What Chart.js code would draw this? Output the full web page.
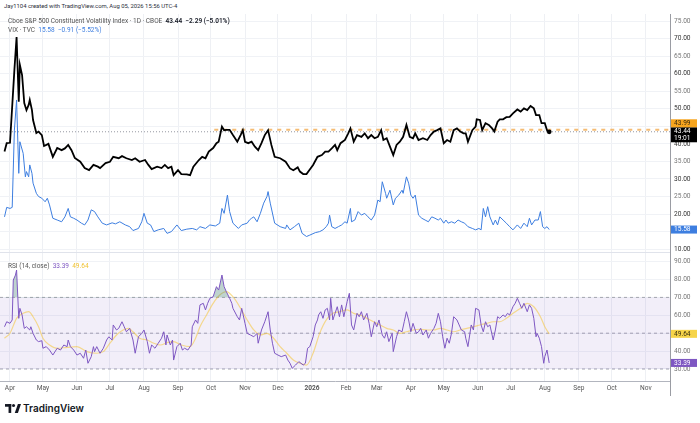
<!DOCTYPE html>
<html>
<head>
<meta charset="utf-8">
<script src="https://cdn.jsdelivr.net/npm/chart.js@4.4.1/dist/chart.umd.min.js"></script>
<style>
  body { margin:0; width:700px; height:423px; background:#fff; position:relative; overflow:hidden;
         font-family: Roboto, "Noto Sans", sans-serif; }
  .abs { position:absolute; white-space:nowrap; line-height:1; }
  .txt { z-index:3; }
  #top { left:0; top:14px; width:700px; height:239px; }
  #bot { left:0; top:253px; width:700px; height:145px; }
</style>
</head>
<body>
<div class="abs txt" style="left:4px;top:4px;font-size:5.9px;color:#2a2e39">Jay1104 created with TradingView.com, Aug 05, 2026 15:56 UTC-4</div>
<div class="abs txt" style="left:8px;top:17.5px;font-size:6.5px;color:#555">Cboe S&amp;P 500 Constituent Volatility Index · 1D · CBOE&nbsp; <span style="color:#131722;font-weight:600">43.44&nbsp; −2.29 (−5.01%)</span></div>
<div class="abs txt" style="left:8px;top:26.5px;font-size:6.5px;color:#555">VIX · TVC&nbsp; <span style="color:#3d7ee0">15.58&nbsp; −0.91 (−5.52%)</span></div>
<div class="abs txt" style="left:8px;top:262.5px;font-size:6.5px;color:#555">RSI (14, close)&nbsp; <span style="color:#7e57c2">33.39</span>&nbsp; <span style="color:#f0c232">49.64</span></div>

<div class="abs" id="top"><canvas id="mainChart"></canvas></div>
<div class="abs" id="bot"><canvas id="rsiChart"></canvas></div>
<div class="abs" style="left:0;top:252px;width:670px;height:1px;background:#e0e3eb"></div>
<div class="abs" style="left:670px;top:14px;width:1px;height:382px;background:#9a9ca3"></div>

<div class="abs" style="left:5px;top:403px;display:flex;align-items:center">
  <svg width="16" height="9" viewBox="0 0 18 10"><rect x="0" y="0" width="7" height="3" fill="#131722"/><rect x="4" y="0" width="3" height="10" fill="#131722"/><circle cx="9.6" cy="1.7" r="1.7" fill="#131722"/><polygon points="11,10 14.5,0 18,0 14.5,10" fill="#131722"/></svg>
  <span style="font-size:10px;font-weight:600;color:#131722;margin-left:2px;font-family:Inter,Roboto,sans-serif">TradingView</span>
</div>

<script>
// x values are calendar days counted from 2025-04-01
const monthDays = [0, 30, 61, 91, 122, 153, 183, 214, 244, 275, 306, 334, 365, 395, 426, 456, 487, 518, 548, 579];
const monthLabels = ['Apr', 'May', 'Jun', 'Jul', 'Aug', 'Sep', 'Oct', 'Nov', 'Dec', '2026', 'Feb', 'Mar', 'Apr', 'May', 'Jun', 'Jul', 'Aug', 'Sep', 'Oct', 'Nov'];
const priceTicks = [10, 15, 20, 25, 30, 35, 40, 45, 50, 55, 60, 65, 70, 75];
const rsiTicks = [30, 40, 50, 60, 70, 80, 90];
const rsiLevels = [70, 50, 30];

// Cboe S&P 500 Constituent Volatility Index (black)
const cvolSeries = [[-5,37.8],[-3,40.2],[0,40.3],[4,61.0],[6,70.4],[8,52.0],[9,62.5],[11,59.6],[13,51.6],[15,49.6],[17,51.1],[18,52.5],[20,49.6],[21,46.8],[24,43.1],[26,43.5],[29,42.5],[31,39.4],[35,40.0],[39,36.3],[43,38.8],[47,38.2],[50,38.7],[53,39.7],[56,38.2],[59,36.0],[64,34.9],[68,33.1],[72,32.5],[76,34.0],[80,33.5],[82,33.1],[87,34.5],[91,34.9],[94,36.3],[99,35.9],[102,36.5],[106,35.9],[111,35.4],[114,35.9],[118,34.9],[123,35.4],[126,34.0],[129,32.8],[134,33.5],[138,33.1],[141,34.0],[144,33.1],[147,33.5],[149,31.1],[153,32.5],[156,31.4],[161,31.3],[164,31.1],[167,33.5],[172,35.4],[175,36.3],[178,35.9],[181,37.8],[185,38.8],[188,40.2],[190,40.6],[193,44.9],[195,43.9],[197,44.0],[200,44.0],[203,42.5],[207,40.6],[210,42.5],[212,43.9],[214,40.6],[217,40.2],[220,40.6],[223,39.2],[226,38.2],[229,40.2],[232,42.5],[235,43.9],[238,39.7],[241,36.3],[246,35.9],[251,34.9],[255,33.0],[258,32.5],[262,33.3],[264,32.1],[267,31.4],[270,31.4],[273,32.7],[276,34.0],[280,36.3],[284,36.8],[287,37.8],[290,37.8],[293,38.7],[296,39.7],[298,38.2],[301,40.2],[305,41.1],[308,43.0],[310,44.4],[313,40.6],[316,42.5],[320,42.0],[323,43.0],[326,41.6],[329,42.5],[332,41.6],[335,42.0],[338,43.9],[340,41.1],[343,41.6],[346,39.2],[349,36.8],[352,39.7],[355,40.6],[358,42.0],[361,45.4],[364,42.0],[367,41.6],[369,43.0],[372,41.1],[376,41.6],[380,41.1],[383,42.5],[386,43.5],[389,43.9],[392,44.4],[395,40.2],[398,41.1],[401,40.6],[404,43.9],[407,44.4],[410,43.5],[413,43.0],[415,43.0],[417,40.6],[421,43.9],[424,44.9],[425,47.0],[428,46.8],[430,43.9],[433,45.9],[436,45.4],[439,44.4],[441,43.5],[444,46.3],[446,47.0],[449,47.0],[452,47.6],[455,47.7],[458,48.7],[462,49.8],[465,49.2],[468,50.1],[471,49.6],[474,50.8],[477,50.1],[479,48.2],[482,48.2],[484,45.9],[487,45.9],[489,43.9],[491,43.44]];

// VIX (blue)
const vixSeries = [[-5,19.2],[-3,21.9],[0,21.6],[2,21.9],[4,43.9],[6,52.5],[8,31.6],[9,40.6],[12,37.3],[14,30.6],[15,32.1],[17,30.6],[18,34.0],[20,31.6],[21,28.8],[24,25.9],[26,25.0],[29,24.5],[32,23.5],[34,24.5],[36,22.6],[39,18.8],[43,18.3],[47,17.8],[50,19.2],[53,21.6],[55,19.2],[58,18.8],[61,18.3],[65,17.4],[68,16.9],[71,18.3],[74,21.2],[77,20.7],[80,19.2],[84,17.4],[88,16.9],[93,17.5],[96,17.2],[100,17.8],[105,16.9],[109,16.4],[112,15.3],[117,15.9],[120,17.8],[122,20.2],[125,17.4],[128,16.9],[131,15.0],[135,15.5],[140,15.9],[143,14.5],[147,15.0],[152,16.9],[156,15.3],[161,15.7],[166,15.9],[170,15.5],[173,16.4],[178,15.9],[182,16.9],[187,16.6],[191,17.4],[193,21.6],[195,20.2],[198,25.4],[200,20.7],[203,17.4],[208,15.9],[211,16.9],[216,17.4],[218,18.3],[220,18.8],[222,19.2],[225,17.8],[228,20.2],[231,23.1],[234,25.0],[235,26.4],[237,23.1],[241,17.4],[246,16.4],[251,15.9],[252,16.9],[255,15.5],[259,16.4],[263,17.4],[266,14.5],[270,13.6],[273,14.0],[278,14.7],[282,15.0],[285,15.5],[288,16.4],[290,17.4],[291,19.7],[293,16.4],[296,15.9],[299,16.4],[302,16.9],[305,17.8],[307,17.4],[310,21.6],[311,17.8],[314,18.3],[317,20.7],[320,19.7],[323,20.2],[326,19.2],[329,18.3],[332,19.7],[335,24.0],[337,23.5],[339,29.2],[342,25.9],[343,24.5],[346,26.8],[349,22.6],[351,24.5],[354,25.4],[357,26.8],[358,25.9],[361,30.6],[363,28.8],[365,25.4],[367,24.5],[369,25.4],[372,19.7],[375,18.8],[378,18.3],[381,17.8],[384,19.2],[387,18.8],[390,18.3],[392,18.8],[395,17.4],[397,18.3],[399,17.4],[402,17.8],[405,17.4],[408,18.3],[411,17.8],[414,17.4],[417,16.4],[421,15.9],[424,15.5],[427,15.9],[429,15.5],[431,21.6],[433,19.2],[435,22.1],[437,19.2],[440,16.9],[442,18.3],[444,16.9],[446,19.2],[449,18.3],[452,17.4],[455,16.4],[458,15.5],[462,16.9],[465,15.9],[468,17.4],[471,16.4],[473,18.8],[475,16.9],[478,18.3],[481,18.3],[483,20.7],[485,16.4],[487,15.9],[489,16.4],[491,15.58]];

// RSI(14) of the index and its moving average
const rsiSeries = [[-5,53.6],[-3,56.4],[0,55.5],[2,57.4],[3,79.7],[5,82.5],[6,85.3],[8,58.3],[9,63.9],[11,60.2],[13,52.7],[15,53.6],[18,51.8],[19,53.6],[21,49.9],[24,46.2],[26,45.3],[29,45.8],[30,41.6],[33,42.5],[36,40.6],[39,37.8],[43,41.6],[46,40.6],[49,43.4],[52,42.5],[53,46.2],[55,42.5],[58,40.6],[61,37.8],[64,38.8],[67,36.0],[69,40.6],[71,33.2],[74,36.9],[76,42.5],[77,39.7],[79,42.5],[82,38.8],[85,41.6],[88,46.2],[90,48.0],[93,46.2],[94,54.6],[97,51.8],[99,52.7],[102,56.4],[104,53.6],[106,50.8],[109,52.7],[112,46.2],[114,38.8],[117,48.0],[120,49.9],[122,51.8],[125,45.3],[127,38.8],[129,43.4],[132,41.6],[135,44.4],[138,47.2],[140,50.8],[142,43.4],[143,49.0],[146,43.4],[148,46.2],[149,35.0],[152,42.5],[155,44.4],[157,40.6],[159,41.6],[162,40.6],[165,43.4],[166,53.6],[169,57.4],[171,55.5],[173,65.8],[176,66.7],[178,63.0],[180,66.7],[182,69.5],[185,70.4],[188,76.0],[190,74.1],[193,82.5],[195,76.0],[197,73.2],[200,69.5],[202,66.7],[203,63.9],[207,59.2],[209,57.4],[211,63.9],[214,55.5],[216,49.9],[219,49.0],[222,48.0],[225,49.9],[226,44.4],[229,51.8],[232,56.4],[235,62.0],[237,51.8],[239,44.4],[241,38.8],[244,37.8],[247,36.9],[251,37.8],[253,35.0],[255,33.2],[257,30.4],[260,32.2],[263,34.1],[265,33.2],[267,32.2],[269,33.2],[271,41.6],[273,42.5],[276,48.0],[278,54.6],[280,57.4],[281,60.2],[283,62.0],[285,58.3],[287,63.0],[289,63.9],[291,57.4],[292,69.5],[294,57.4],[296,61.1],[298,64.8],[300,59.2],[302,65.8],[304,59.2],[307,67.6],[309,72.3],[311,54.6],[313,51.8],[316,61.1],[318,59.2],[320,62.0],[322,57.4],[325,61.1],[327,55.5],[329,48.0],[332,56.4],[334,53.6],[336,57.4],[339,49.0],[341,47.2],[343,50.8],[345,45.3],[348,49.9],[349,39.7],[352,48.0],[354,51.8],[357,50.8],[359,56.4],[361,62.0],[363,57.4],[365,50.8],[367,55.5],[370,49.9],[372,50.8],[374,52.7],[376,49.0],[379,51.8],[381,47.2],[383,49.9],[386,52.7],[388,55.5],[390,61.1],[392,56.4],[394,48.0],[396,41.6],[398,47.2],[400,44.4],[402,49.9],[404,59.2],[407,57.4],[409,54.6],[411,51.8],[414,50.8],[415,47.2],[417,42.5],[420,54.6],[422,51.8],[424,63.9],[427,63.0],[429,54.6],[431,50.8],[433,56.4],[435,53.6],[437,54.6],[440,46.2],[442,51.8],[444,59.2],[446,58.3],[449,60.2],[451,59.2],[453,61.1],[455,60.2],[458,64.8],[460,66.7],[462,69.5],[464,66.7],[466,63.9],[468,66.7],[471,62.0],[473,65.8],[475,63.9],[477,58.3],[479,48.0],[480,49.9],[482,47.2],[484,42.5],[486,33.2],[487,36.9],[489,40.6],[491,33.39]];
const rsiMaSeries = [[-5,47.2],[0,50.0],[6,58.3],[12,61.1],[17,62.0],[21,59.2],[26,53.6],[30,47.2],[36,43.4],[43,41.6],[52,42.1],[61,42.5],[70,39.7],[79,38.8],[85,39.7],[91,44.4],[97,49.0],[103,51.8],[108,52.7],[112,50.8],[118,47.2],[125,46.2],[131,44.4],[137,43.4],[143,44.7],[149,45.3],[156,43.4],[164,42.5],[169,47.2],[173,53.6],[179,60.2],[185,66.7],[191,71.3],[197,73.2],[203,70.4],[210,63.9],[216,57.4],[222,51.8],[228,49.0],[234,49.9],[240,47.2],[246,42.5],[252,38.8],[258,35.0],[264,33.2],[270,32.2],[276,38.8],[282,49.9],[288,57.4],[294,61.1],[300,62.0],[307,63.0],[313,61.1],[319,60.2],[325,58.3],[331,56.4],[337,54.6],[343,52.7],[349,51.8],[355,49.9],[361,50.8],[367,51.8],[373,52.2],[380,51.8],[386,51.8],[392,52.7],[398,51.8],[404,50.8],[410,51.8],[416,52.7],[422,53.6],[428,54.6],[434,55.5],[440,56.4],[446,56.4],[452,58.3],[458,61.1],[465,63.9],[471,66.7],[477,64.8],[483,59.2],[487,53.6],[491,49.64]];

const lastCvol = 43.44, lastVix = 15.58, lastRsi = 33.39, lastRsiMa = 49.64;
const hLineValue = 43.99, hLineStart = 186;
const xMin = -9.1, xMax = 601;

const FONT = 'Roboto, "Noto Sans", sans-serif';
const toXY = s => s.map(([d, v]) => ({ x: d, y: v }));
const flat = (v, from) => [{ x: from, y: v }, { x: xMax, y: v }];

function xAxis(showLabels) {
  return {
    type: 'linear', min: xMin, max: xMax,
    afterBuildTicks: s => { s.ticks = monthDays.map(v => ({ value: v })); },
    afterFit: s => { s.height = showLabels ? 17 : 0; s.paddingLeft = 0; s.paddingRight = 0; },
    grid: { color: '#eef0f4', drawTicks: false },
    border: { display: showLabels, color: '#b2b5be' },
    ticks: {
      display: showLabels, autoSkip: false, maxRotation: 0, padding: 3, color: '#555',
      font: c => ({ size: 6.6, family: FONT, weight: monthLabels[c.index] === '2026' ? 'bold' : 'normal' }),
      callback: (v, i) => monthLabels[i]
    }
  };
}

function yAxis(min, max, ticks, colorFn) {
  return {
    position: 'right', min: min, max: max,
    afterBuildTicks: s => { s.ticks = ticks.map(v => ({ value: v })); },
    // keep the plot edge exactly on the panel edge
    afterFit: s => { s.width = 30; s.paddingTop = 0; s.paddingBottom = 0; },
    grid: { color: '#f0f2f6', drawTicks: false },
    border: { display: false },
    ticks: { padding: 4, color: colorFn, font: { size: 6.6, family: FONT }, callback: v => v.toFixed(2) }
  };
}

// price tags on the right axis, pushed apart when they overlap
const axisTags = {
  id: 'axisTags',
  afterDraw(chart, args, opts) {
    const ctx = chart.ctx, y = chart.scales.y, left = chart.chartArea.right + 1;
    const boxes = opts.items.map(t => {
      const py = y.getPixelForValue(t.value);
      const h = t.sub ? 15 : 8;
      return Object.assign({}, t, { top: py - (t.sub ? 4.5 : 4), h: h });
    }).sort((a, b) => b.top - a.top);
    for (let i = 1; i < boxes.length; i++) {
      const below = boxes[i - 1], b = boxes[i];
      if (b.top + b.h > below.top) b.top = below.top - b.h;
    }
    ctx.save();
    ctx.font = '6.6px ' + FONT;
    ctx.textBaseline = 'middle';
    boxes.forEach(b => {
      ctx.fillStyle = b.bg;
      ctx.fillRect(left, b.top, 26, b.h);
      ctx.fillStyle = b.fg;
      ctx.fillText(b.text, left + 3, b.top + 4.2);
      if (b.sub) ctx.fillText(b.sub, left + 3, b.top + 11);
    });
    ctx.restore();
  }
};

const common = {
  responsive: true, maintainAspectRatio: false, animation: false,
  layout: { padding: 0, autoPadding: false },
  elements: { point: { radius: 0 }, line: { tension: 0 } }
};

new Chart(document.getElementById('mainChart'), {
  type: 'line',
  data: {
    datasets: [
      { data: toXY(cvolSeries), borderColor: '#000', borderWidth: 1.8,
        pointRadius: c => c.dataIndex === cvolSeries.length - 1 ? 2.4 : 0, pointBackgroundColor: '#000', pointBorderWidth: 0 },
      { data: toXY(vixSeries), borderColor: '#3d7ee0', borderWidth: 1 },
      { data: flat(lastCvol, xMin), borderColor: '#9598a1', borderWidth: 1, borderDash: [1, 2] },
      { data: flat(hLineValue, hLineStart), borderColor: 'rgba(242,165,70,0.75)', borderWidth: 2, borderDash: [4, 5] }
    ]
  },
  options: Object.assign({}, common, {
    scales: {
      x: xAxis(false),
      y: yAxis(75 - (253 - 21) / 3.51, 75 + 7 / 3.51, priceTicks, c => (c.tick.value % 10 === 0 ? '#333' : '#777'))
    },
    plugins: {
      legend: { display: false }, tooltip: { enabled: false },
      axisTags: { items: [
        { value: lastCvol, text: '43.44', sub: '19:01', bg: '#000', fg: '#fff' },
        { value: hLineValue, text: '43.99', bg: '#f7a51e', fg: '#3a2a10' },
        { value: lastVix, text: '15.58', bg: '#3d7ee0', fg: '#fff' }
      ] }
    }
  }),
  plugins: [axisTags]
});

const bandColor = 'rgba(126,87,194,0.1)';
new Chart(document.getElementById('rsiChart'), {
  type: 'line',
  data: {
    datasets: [
      { data: toXY(rsiSeries), borderColor: '#7e57c2', borderWidth: 1,
        fill: { target: { value: 70 }, above: 'rgba(70,130,115,0.35)', below: 'rgba(0,0,0,0)' } },
      { data: toXY(rsiMaSeries), borderColor: 'rgba(245,200,70,0.6)', borderWidth: 1.2, cubicInterpolationMode: 'monotone' },
      { data: flat(rsiLevels[0], xMin), borderColor: '#a3a6af', borderWidth: 1, borderDash: [3, 3], fill: 4, backgroundColor: bandColor },
      { data: flat(rsiLevels[1], xMin), borderColor: '#a3a6af', borderWidth: 1, borderDash: [3, 3] },
      { data: flat(rsiLevels[2], xMin), borderColor: '#a3a6af', borderWidth: 1, borderDash: [3, 3] }
    ]
  },
  options: Object.assign({}, common, {
    scales: {
      x: xAxis(true),
      y: yAxis(50 - (381 - 333.2) / 1.79, 50 + (333.2 - 253) / 1.79, rsiTicks, '#777')
    },
    plugins: {
      legend: { display: false }, tooltip: { enabled: false },
      axisTags: { items: [
        { value: lastRsiMa, text: '49.64', bg: '#f6d44a', fg: '#3a3010' },
        { value: lastRsi, text: '33.39', bg: '#7e57c2', fg: '#fff' }
      ] }
    }
  }),
  plugins: [axisTags]
});
</script>
</body>
</html>
